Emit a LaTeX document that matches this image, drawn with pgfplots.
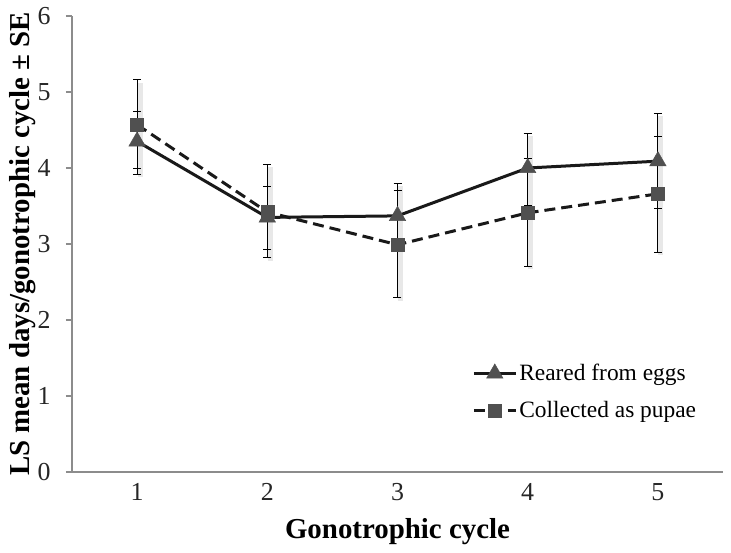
\documentclass[border=0pt]{standalone}
\usepackage{fontspec}
\setmainfont{Liberation Serif}
\usepackage{pgfplots}
\usepackage{pgfplotstable}
\pgfplotsset{compat=1.18}
\definecolor{axgray}{HTML}{8C8C8C}
\definecolor{mk}{HTML}{505050}
\pgfplotstableread{
x y ep em
1 4.35 0.39 0.43
2 3.35 0.40 0.42
3 3.37 0.43 0.43
4 4.00 0.46 0.50
5 4.09 0.63 0.62
}\reared
\pgfplotstableread{
x y ep em
1 4.57 0.59 0.58
2 3.42 0.63 0.60
3 2.99 0.71 0.70
4 3.41 0.71 0.70
5 3.66 0.75 0.77
}\collected
\begin{document}
\begin{tikzpicture}
\begin{axis}[
  scale only axis, width=651bp, height=456bp,
  xmin=0.5, xmax=5.5, ymin=0, ymax=6,
  axis lines=left, axis line style={draw=axgray, line width=2bp, -},
  xtick={1,...,5}, ytick={0,...,6},
  tick align=outside, major tick length=6bp,
  xtick style={draw=none}, ytick style={draw=axgray, line width=1.5bp},
  /pgf/number format/assume math mode=true,
  tick label style={font=\fontsize{26}{26}\selectfont, text=black!85},
  yticklabel style={xshift=-12bp},
  xticklabel style={yshift=-2bp},
  xlabel={Gonotrophic cycle}, ylabel={LS mean days/gonotrophic cycle ± SE},
  every axis x label/.style={at={(axis description cs:0.5,-0.13)}, anchor=center, font=\bfseries\fontsize{29}{30}\selectfont},
  every axis y label/.style={at={(axis description cs:-0.076,0.5)}, anchor=center, rotate=90, font=\bfseries\fontsize{29}{30}\selectfont},
  clip=false,
  legend style={at={(0.61,0.245)}, anchor=north west, draw=none, fill=none,
    font=\fontsize{23.5}{25}\selectfont, row sep=15bp, cells={anchor=west}},
  legend image code/.code={\draw[mark repeat=2,mark phase=2,#1] plot coordinates {(0bp,0bp) (21bp,0bp) (42bp,0bp)};},
]
% shadows of error bars
\addplot[forget plot, draw=none, error bars/.cd, y dir=both, y explicit, error mark=none,
  error bar style={draw=black!9, line width=5bp, xshift=3bp, yshift=-3bp}]
  table[x=x, y=y, y error plus=ep, y error minus=em] {\reared};
\addplot[forget plot, draw=none, error bars/.cd, y dir=both, y explicit, error mark=none,
  error bar style={draw=black!9, line width=5bp, xshift=3bp, yshift=-3bp}]
  table[x=x, y=y, y error plus=ep, y error minus=em] {\collected};
% error bars
\addplot[forget plot, draw=none, error bars/.cd, y dir=both, y explicit,
  error mark options={rotate=90, mark size=4bp, line width=1bp, draw=black},
  error bar style={draw=black, line width=1bp}]
  table[x=x, y=y, y error plus=ep, y error minus=em] {\reared};
\addplot[forget plot, draw=none, error bars/.cd, y dir=both, y explicit,
  error mark options={rotate=90, mark size=4bp, line width=1bp, draw=black},
  error bar style={draw=black, line width=1bp}]
  table[x=x, y=y, y error plus=ep, y error minus=em] {\collected};
% lines
\addplot[black!90, line width=3bp, mark=triangle*, mark size=9.5bp,
  mark options={solid, fill=mk, draw=mk, line width=0.5bp}]
  table[x=x, y=y] {\reared};
\addlegendentry{Reared from eggs}
\addplot[black!90, line width=3bp, dash pattern=on 11bp off 6bp, mark=square*, mark size=6.5bp,
  mark options={solid, fill=mk, draw=mk, line width=0.5bp}]
  table[x=x, y=y] {\collected};
\addlegendentry{Collected as pupae}
\end{axis}
\pgfresetboundingbox
\path (-72bp,-81bp) rectangle (659bp,472bp);
\end{tikzpicture}
\end{document}
